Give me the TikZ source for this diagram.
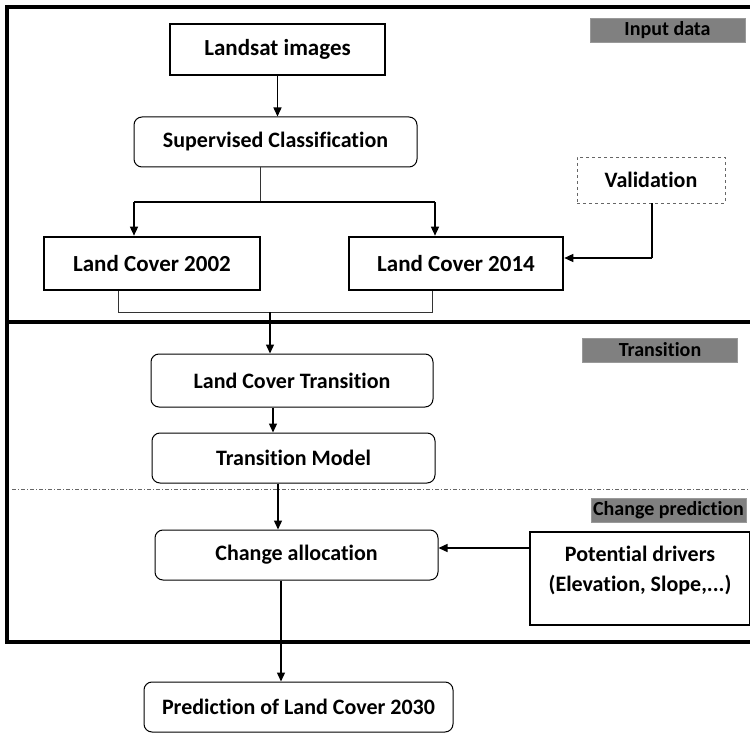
\documentclass[tikz,border=0pt]{standalone}
\usepackage{fontspec}
\setmainfont{Carlito}[Ligatures=NoCommon]
\usetikzlibrary{arrows.meta,calc}
\begin{document}
\begin{tikzpicture}[x=1pt,y=-1pt,
  box/.style={draw, line width=2.6pt, minimum width=#1, inner sep=0pt, font=\bfseries\fontsize{23}{27}\selectfont},
  rbox/.style={draw, line width=1pt, rounded corners=8pt, minimum width=#1, minimum height=50pt, inner sep=0pt, font=\bfseries\fontsize{22}{26}\selectfont},
  tag/.style={fill=black!50, draw=black!40, line width=0.8pt, minimum width=155pt, minimum height=24pt, inner sep=0pt, font=\bfseries\fontsize{20}{22}\selectfont},
  arr/.style={line width=1.4pt, -{Triangle[length=9pt,width=8pt]}},
  thin/.style={line width=0.8pt, draw=black!80},
  frame/.style={line width=4pt}
]
\useasboundingbox (0,0) rectangle (750,733);
% frames
\draw[frame] (7,7) -- (760,7);
\draw[frame] (7,5) -- (7,644);
\draw[frame] (5,322) -- (760,322);
\draw[frame] (5,642) -- (760,642);
\draw[line width=0.8pt, draw=black!60, dash pattern=on 4pt off 2pt on 1pt off 2pt] (12,489) -- (750,489);
% tags
\node[tag] (inlab) at (667.5,30) {Input data};
\node[tag] (trlab) at (660,350) {Transition};
\node[tag] (cplab) at (668.5,510) {Change prediction};
% nodes
\node[box=215pt, minimum height=51pt] (land) at (277.5,49.5) {Landsat images};
\node[rbox=283pt] (sup) at (275.5,142) {Supervised Classification};
\node[box=216pt, minimum height=53pt] (lc02) at (152,263.5) {Land Cover 2002};
\node[box=214pt, minimum height=53pt] (lc14) at (456,263.5) {Land Cover 2014};
\node[draw=black!60, dashed, line width=0.8pt, minimum width=148pt, minimum height=46pt, inner sep=0pt, font=\bfseries\fontsize{22}{26}\selectfont] (val) at (651,180) {Validation};
\node[rbox=282pt, minimum height=53pt] (lct) at (292,380.5) {Land Cover Transition};
\node[rbox=283pt] (tm) at (293.5,458) {Transition Model};
\node[rbox=283pt] (ca) at (296.5,555) {Change allocation};
\node[box=220pt, minimum height=93pt] (pd) at (640,578.5) {};
\node[align=center, inner sep=0pt, font=\bfseries\fontsize{22}{30}\selectfont] (pdtext) at (640,571) {Potential drivers\\(Elevation, Slope,...)};
\node[rbox=309pt] (pred) at (298.5,707) {Prediction of Land Cover 2030};
% connectors
\draw[arr] (land.south) -- (sup.north -| land.south);
\coordinate (j1) at (260,202);
\coordinate (jl) at (134,202);
\coordinate (jr) at (435,202);
\draw[thin] (sup.south -| j1) -- (j1);
\draw[line width=1.4pt] (jl) -- (jr);
\draw[arr] (jl) -- (lc02.north -| jl);
\draw[arr] (jr) -- (lc14.north -| jr);
\coordinate (vc) at (652,258);
\draw[line width=1.4pt] (val.south -| vc) -- (vc);
\draw[arr] (vc) -- (lc14.east |- vc);
\coordinate (b1) at (118,312);
\coordinate (b2) at (432,312);
\coordinate (b3) at (270,312);
\draw[thin] (lc02.south -| b1) -- (b1) -- (b2) -- (lc14.south -| b2);
\draw[arr] (b3) -- (lct.north -| b3);
\coordinate (c1) at (273,0);
\draw[arr] (lct.south -| c1) -- (tm.north -| c1);
\coordinate (c2) at (278,0);
\draw[arr] (tm.south -| c2) -- (ca.north -| c2);
\coordinate (c3) at (0,548);
\draw[arr] (pd.west |- c3) -- (ca.east |- c3);
\coordinate (c4) at (281,0);
\draw[arr] (ca.south -| c4) -- (pred.north -| c4);
\end{tikzpicture}
\end{document}
